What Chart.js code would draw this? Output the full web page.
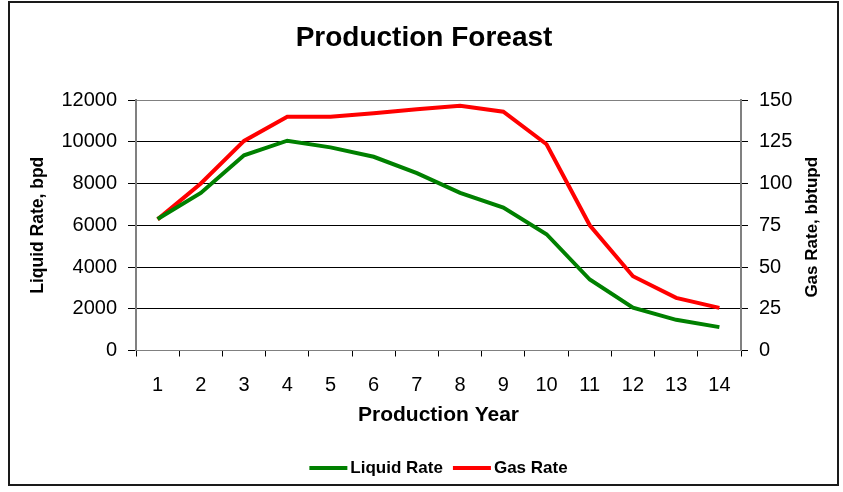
<!DOCTYPE html>
<html>
<head>
<meta charset="utf-8">
<title>Production Foreast</title>
<script src="https://cdn.jsdelivr.net/npm/chart.js@4.4.1/dist/chart.umd.min.js"></script>
<style>
    body { margin: 0; background: #fff; }
    #wrap { width: 843px; height: 492px; }
</style>
</head>
<body>
<div id="wrap"><canvas id="prodChart" width="843" height="492"></canvas></div>
<script>
// --- data ---
const years = ['1', '2', '3', '4', '5', '6', '7', '8', '9', '10', '11', '12', '13', '14'];
const liquidRate = [6300, 7550, 9350, 10050, 9730, 9280, 8500, 7550, 6850, 5570, 3400, 2050, 1470, 1120];
const gasRate = [78.5, 100, 125.5, 140, 140, 142, 144.5, 146.5, 143, 123.5, 75, 44.5, 31.5, 25.5];

const FONT = "'Liberation Sans', Arial, sans-serif";

// white background, outer frame, right axis title (bottom-to-top like Excel) and the legend
const frame = {
    id: 'frame',
    beforeDraw(chart) {
        const c = chart.ctx;
        c.save();
        c.fillStyle = '#fff';
        c.fillRect(0, 0, chart.width, chart.height);
        c.restore();
    },
    afterDraw(chart) {
        const c = chart.ctx;
        const area = chart.chartArea;
        c.save();
        c.strokeStyle = '#1a1a1a';
        c.lineWidth = 2;
        c.strokeRect(9, 2, 829, 483);

        // legend row
        c.font = 'bold 17px ' + FONT;
        c.textBaseline = 'middle';
        c.textAlign = 'left';
        const lineLen = 38, gap = 3, itemGap = 10, ly = 468;
        const sets = chart.data.datasets;
        let total = 0;
        sets.forEach(function (ds, i) {
            total += lineLen + gap + c.measureText(ds.label).width + (i ? itemGap : 0);
        });
        let x = (area.left + area.right) / 2 - total / 2;
        sets.forEach(function (ds) {
            c.strokeStyle = ds.borderColor;
            c.lineWidth = 4;
            c.beginPath();
            c.moveTo(x, ly);
            c.lineTo(x + lineLen, ly);
            c.stroke();
            x += lineLen + gap;
            c.fillStyle = '#000';
            c.fillText(ds.label, x, ly);
            x += c.measureText(ds.label).width + itemGap;
        });

        c.translate(812, (area.top + area.bottom) / 2 + 2);
        c.rotate(-Math.PI / 2);
        c.textAlign = 'center';
        c.fillText('Gas Rate, bbtupd', 0, 0);
        c.restore();
    }
};

const plainNumber = function (value) { return String(value); };

document.addEventListener('DOMContentLoaded', function () {
    const ctx = document.getElementById('prodChart');
    new Chart(ctx, {
        type: 'line',
        data: {
            labels: years,
            datasets: [{
                label: 'Liquid Rate',
                data: liquidRate,
                yAxisID: 'y',
                borderColor: '#008000',
                backgroundColor: '#008000',
                borderWidth: 4,
                pointRadius: 0,
                tension: 0
            }, {
                label: 'Gas Rate',
                data: gasRate,
                yAxisID: 'y1',
                borderColor: '#ff0000',
                backgroundColor: '#ff0000',
                borderWidth: 4,
                pointRadius: 0,
                tension: 0
            }]
        },
        options: {
            responsive: false,
            animation: false,
            layout: { padding: { left: 10, right: 5, top: 2, bottom: 42 } },
            plugins: {
                title: {
                    display: true,
                    text: 'Production Foreast',
                    color: '#000',
                    font: { family: FONT, size: 28, weight: 'bold' },
                    padding: { top: 19, bottom: 45.4 }
                },
                legend: { display: false },
                tooltip: { enabled: false }
            },
            scales: {
                x: {
                    offset: true,
                    afterFit: function (scale) { scale.height = 99.5; },
                    grid: {
                        offset: true,
                        drawOnChartArea: false,
                        tickLength: 6,
                        color: '#000'
                    },
                    border: { color: '#808080', width: 1 },
                    ticks: {
                        color: '#000',
                        padding: 17,
                        maxRotation: 0,
                        font: { family: FONT, size: 20 }
                    },
                    title: {
                        display: true,
                        text: 'Production Year',
                        color: '#000',
                        font: { family: FONT, size: 21, weight: 'bold' },
                        padding: { top: 6, bottom: 22 }
                    }
                },
                y: {
                    position: 'left',
                    min: 0,
                    max: 12000,
                    afterFit: function (scale) { scale.width = 126; },
                    grid: {
                        color: function (c) { return c.tick && c.tick.value === 12000 ? '#808080' : '#000'; },
                        tickColor: '#000',
                        tickLength: 8
                    },
                    border: { color: '#808080', width: 2 },
                    ticks: {
                        stepSize: 2000,
                        color: '#000',
                        padding: 11,
                        font: { family: FONT, size: 20 },
                        callback: plainNumber
                    },
                    title: {
                        display: true,
                        text: 'Liquid Rate, bpd',
                        color: '#000',
                        font: { family: FONT, size: 17.5, weight: 'bold' },
                        padding: { top: 18, bottom: 0 }
                    }
                },
                y1: {
                    position: 'right',
                    min: 0,
                    max: 150,
                    afterFit: function (scale) { scale.width = 97; },
                    grid: {
                        drawOnChartArea: false,
                        color: '#000',
                        tickLength: 7
                    },
                    border: { color: '#808080', width: 2 },
                    ticks: {
                        stepSize: 25,
                        color: '#000',
                        padding: 11,
                        font: { family: FONT, size: 20 },
                        callback: plainNumber
                    }
                }
            }
        },
        plugins: [frame]
    });
});
</script>
</body>
</html>
